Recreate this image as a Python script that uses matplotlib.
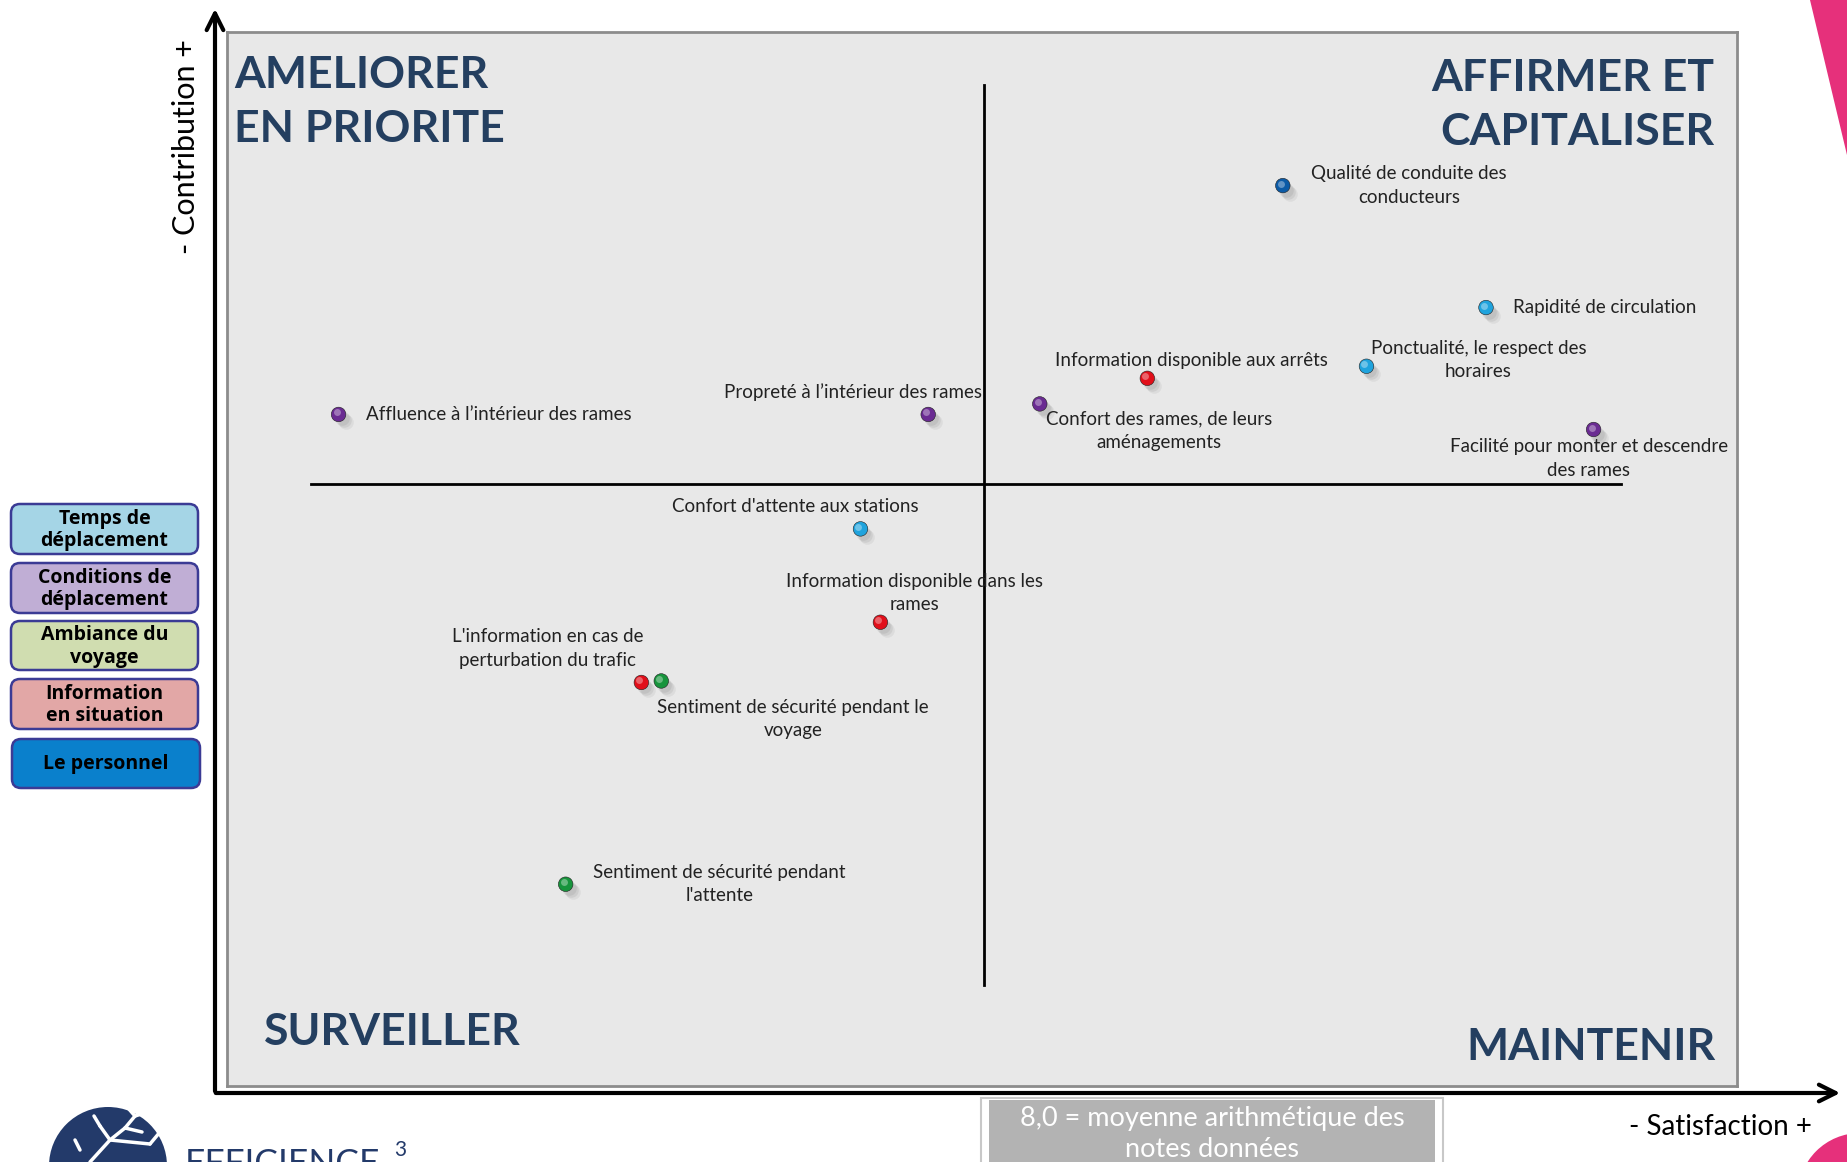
import matplotlib.pyplot as plt
import matplotlib.patches as mpatches
import matplotlib.transforms as mtransforms

# data (satisfaction on x, contribution on y, mean satisfaction = 8.0)
labels = [
    "Qualité de conduite des\nconducteurs",
    "Rapidité de circulation",
    "Ponctualité, le respect des\nhoraires",
    "Information disponible aux arrêts",
    "Confort des rames, de leurs\naménagements",
    "Facilité pour monter et descendre\ndes rames",
    "Affluence à l’intérieur des rames",
    "Propreté à l’intérieur des rames",
    "Confort d'attente aux stations",
    "Information disponible dans les\nrames",
    "L'information en cas de\nperturbation du trafic",
    "Sentiment de sécurité pendant le\nvoyage",
    "Sentiment de sécurité pendant\nl'attente",
]
satisfaction = [8.75, 9.26, 8.96, 8.41, 8.14, 9.53, 6.38, 7.86, 7.69, 7.74, 7.14, 7.19, 6.95]
contribution = [6.98, 6.17, 5.78, 5.70, 5.53, 5.36, 5.46, 5.46, 4.70, 4.08, 3.68, 3.69, 2.34]
category = ["pers", "temps", "temps", "info", "cond", "cond", "cond", "cond",
            "temps", "info", "info", "amb", "amb"]

legend_names = ["Temps de\ndéplacement", "Conditions de\ndéplacement", "Ambiance du\nvoyage",
                "Information\nen situation", "Le personnel"]
legend_keys = ["temps", "cond", "amb", "info", "pers"]

point_colors = {"temps": "#1fa3dd", "cond": "#6a2b92", "amb": "#17943c",
                "info": "#e10f1a", "pers": "#0b5aa6"}
box_colors = {"temps": "#a5d5e6", "cond": "#c0aed5", "amb": "#d0ddb0",
              "info": "#e2a7a6", "pers": "#0a80cc"}

# label placement (offset in pixels from the point, alignment)
label_offsets = [(126, 0, "center"), (27, 0, "left"), (112, 6, "center"), (44, 18, "center"),
                 (119, -27, "center"), (-5, -29, "center"), (27, 0, "left"), (-75, 22, "center"),
                 (-65, 22, "center"), (34, 29, "center"), (-94, 34, "center"), (132, -38, "center"),
                 (154, 0, "center")]

W, H = 1847, 1162
fig = plt.figure(figsize=(W / 100, H / 100), dpi=100)
navy = "#243f60"

# background layer in pixel coordinates
bg = fig.add_axes([0, 0, 1, 1])
bg.set_xlim(0, W)
bg.set_ylim(H, 0)
bg.axis("off")

# panel
px0, px1, py0, py1 = 227, 1737, 32, 1086
ax = fig.add_axes([px0 / W, 1 - py1 / H, (px1 - px0) / W, (py1 - py0) / H])
ax.set_facecolor("#e8e8e8")
for s in ax.spines.values():
    s.set_color("#8c8c8c")
    s.set_linewidth(2)
ax.set_xticks([])
ax.set_yticks([])
ax.set_xlim(6.1, 9.89)
ax.set_ylim(1.0, 8.0)

ax.plot([8.0, 8.0], [1.67, 7.65], color="black", lw=2)
ax.plot([6.31, 9.6], [5.0, 5.0], color="black", lw=2)

# points with shadow and highlight
cols = [point_colors[c] for c in category]
for k, a in [(3, 0.10), (5, 0.10), (7, 0.08)]:
    shadow = mtransforms.offset_copy(ax.transData, fig=fig, x=k, y=-k - 1, units="dots")
    ax.scatter(satisfaction, contribution, s=110, color="#555555", alpha=a, lw=0,
               transform=shadow, zorder=3)
hl = mtransforms.offset_copy(ax.transData, fig=fig, x=-2, y=2, units="dots")
ax.scatter(satisfaction, contribution, s=110, color=cols, edgecolor="#222222", lw=0.4, zorder=4)
ax.scatter(satisfaction, contribution, s=25, color="white", alpha=0.35, lw=0,
           transform=hl, zorder=5)

for lab, x, y, (dx, dy, ha) in zip(labels, satisfaction, contribution, label_offsets):
    ax.annotate(lab, (x, y), xytext=(dx, dy), textcoords="offset pixels", ha=ha, va="center",
                fontsize=13.5, family="Lato", color="#222222", linespacing=1.45, zorder=6)

# quadrant titles (drawn by the panel so they sit on top of it)
tkw = dict(family="Lato", fontweight="bold", fontsize=32, color=navy, linespacing=1.42,
           transform=bg.transData, clip_on=False, zorder=7)
ax.text(234, 55, "AMELIORER\nEN PRIORITE", ha="left", va="top", **tkw)
ax.text(1714, 58, "AFFIRMER ET\nCAPITALISER", ha="right", va="top", **tkw)
ax.text(264, 1045, "SURVEILLER", ha="left", va="baseline", **tkw)
ax.text(1716, 1060, "MAINTENIR", ha="right", va="baseline", **tkw)

# axis arrows
bg.annotate("", xy=(215, 6), xytext=(215, 1094),
            arrowprops=dict(arrowstyle="->,head_length=1.2,head_width=0.6", lw=3, color="black"))
bg.annotate("", xy=(1843, 1093), xytext=(213, 1093),
            arrowprops=dict(arrowstyle="->,head_length=1.2,head_width=0.6", lw=3, color="black"))
bg.text(186, 147, "- Contribution +", rotation=90, ha="center", va="center",
        fontsize=22, family="Lato")
bg.text(1720, 1127, "- Satisfaction +", ha="center", va="center", fontsize=20, family="Lato")

# legend boxes
box_rows = [(504, 554), (563, 613), (621, 670), (679, 729), (739, 788)]
for name, key, (y0, y1) in zip(legend_names, legend_keys, box_rows):
    x0, x1 = (11, 198) if key != "pers" else (12, 200)
    bg.add_patch(mpatches.FancyBboxPatch((x0, y0), x1 - x0, y1 - y0,
                                         boxstyle="round,pad=0,rounding_size=9",
                                         fc=box_colors[key], ec="#3b3b95", lw=1.8))
    bg.text((x0 + x1) / 2, (y0 + y1) / 2 + 1, name, ha="center", va="center",
            fontsize=14, fontweight="bold", family="Open Sans", linespacing=1.15)

# note box
bg.add_patch(mpatches.Rectangle((981, 1098), 462, 70, fc="white", ec="#c8c8c8", lw=1.5))
bg.add_patch(mpatches.Rectangle((989, 1100), 446, 70, fc="#b3b3b3", ec="none"))
bg.text(1212, 1134, "8,0 = moyenne arithmétique des\nnotes données", ha="center", va="center",
        color="white", fontsize=19.5, family="Lato", linespacing=1.3)

# decorations: pink shapes and logo
bg.add_patch(mpatches.Polygon([(1810, 0), (1847, 0), (1847, 155)], fc="#e6307b", ec="none"))
bg.add_patch(mpatches.Circle((1860, 1195), 62, fc="#e6307b", ec="none"))
bg.add_patch(mpatches.Circle((108, 1166), 59, fc="#233a6a", ec="none"))
for (xa, ya, xb, yb) in [(90, 1162, 110, 1140), (110, 1140, 100, 1126), (110, 1140, 125, 1128),
                         (125, 1128, 135, 1116), (125, 1128, 142, 1132), (100, 1126, 94, 1116),
                         (110, 1140, 150, 1144), (150, 1144, 160, 1132), (135, 1116, 128, 1108),
                         (135, 1116, 148, 1112), (80, 1150, 75, 1140)]:
    bg.plot([xa, xb], [ya, yb], color="white", lw=2.5, solid_capstyle="round")
bg.text(185, 1148, "EFFICIENCE", ha="left", va="top", fontsize=25.5, family="Lato",
        color="#233a6a")
bg.text(394, 1140, "3", ha="left", va="top", fontsize=15, family="Lato", color="#233a6a")

fig.savefig("out.png", dpi=100)
